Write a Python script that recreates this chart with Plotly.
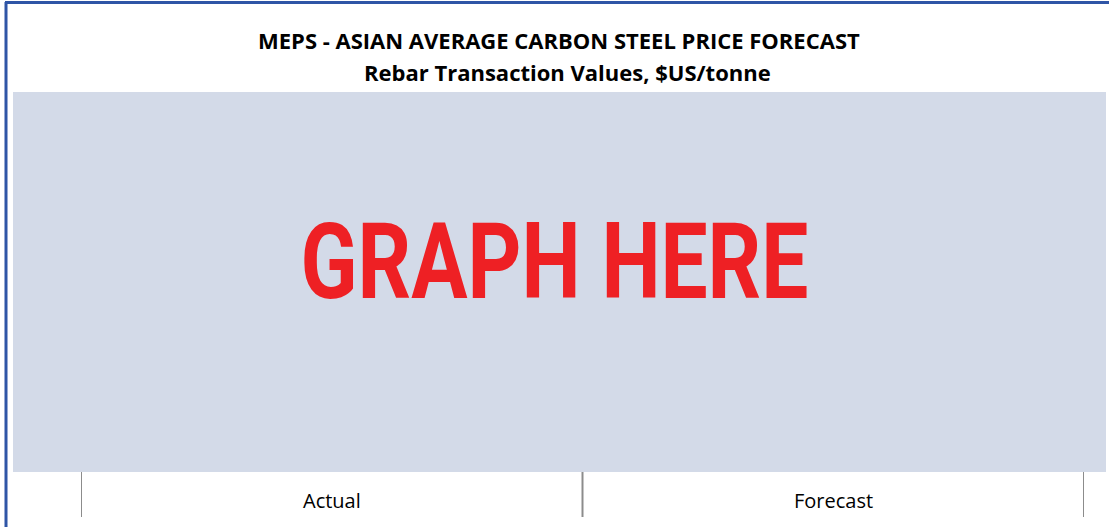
import plotly.graph_objects as go

# chart text
title_line1 = "MEPS - ASIAN AVERAGE CARBON STEEL PRICE FORECAST"
title_line2 = "Rebar Transaction Values, $US/tonne"
placeholder = "GRAPH HERE"

# period sections along the bottom axis
periods = ["Actual", "Forecast"]
period_edges = [-0.5, 0.5, 1.5]

W, H = 1109, 527


def px_x(v):
    return v / W


def px_y(v):
    return 1 - v / H


fig = go.Figure()

# invisible trace so the axis exists
fig.add_trace(go.Scatter(x=periods, y=[0, 0], mode="markers",
                         marker=dict(opacity=0), hoverinfo="skip", showlegend=False))

shapes = []
# grey placeholder area
shapes.append(dict(type="rect", xref="paper", yref="paper",
                   x0=px_x(13), x1=px_x(1106), y0=px_y(472), y1=px_y(92),
                   fillcolor="#D3DAE8", line=dict(width=0), layer="below"))
# blue frame (left and top)
shapes.append(dict(type="line", xref="paper", yref="paper",
                   x0=px_x(6), x1=px_x(6), y0=0, y1=px_y(2),
                   line=dict(color="#2F55A6", width=3)))
shapes.append(dict(type="line", xref="paper", yref="paper",
                   x0=px_x(5), x1=1, y0=px_y(2.5), y1=px_y(2.5),
                   line=dict(color="#2F55A6", width=3)))
# dividers between periods
for e in period_edges:
    shapes.append(dict(type="line", xref="x", yref="paper",
                       x0=e, x1=e, y0=px_y(517), y1=px_y(472),
                       line=dict(color="#8C8C8C", width=2)))

annotations = [
    dict(text="<b>" + title_line1 + "</b>", x=px_x(559), y=px_y(40), xref="paper", yref="paper",
         xanchor="center", yanchor="middle", showarrow=False,
         font=dict(size=22, color="#000000")),
    dict(text="<b>" + title_line2 + "</b>", x=px_x(567), y=px_y(72), xref="paper", yref="paper",
         xanchor="center", yanchor="middle", showarrow=False,
         font=dict(size=22, color="#000000")),
    dict(text="<b>" + placeholder + "</b>", x=px_x(554), y=px_y(262), xref="paper", yref="paper",
         xanchor="center", yanchor="middle", showarrow=False,
         font=dict(size=106, color="#EE2024", family="Roboto, sans-serif")),
]
for p in periods:
    annotations.append(dict(text=p, x=p, y=px_y(500), xref="x", yref="paper",
                            xanchor="center", yanchor="middle", showarrow=False,
                            font=dict(size=20, color="#000000")))

fig.update_layout(
    width=W, height=H,
    margin=dict(l=0, r=0, t=0, b=0),
    paper_bgcolor="white", plot_bgcolor="rgba(0,0,0,0)",
    font=dict(family="Open Sans, sans-serif"),
    shapes=shapes, annotations=annotations,
    xaxis=dict(domain=[px_x(81), px_x(1084)], range=[-0.5, 1.5],
               visible=False, fixedrange=True),
    yaxis=dict(domain=[px_y(517), px_y(472)], range=[-1, 1],
               visible=False, fixedrange=True),
)

# no page margin; squeeze the placeholder text to a condensed look
post = """
document.body.style.margin = '0';
var gd = document.getElementById('{plot_id}');
function squeeze() {
  var t = gd.querySelector('g.annotation[data-index="2"] text');
  if (t) {
    t.style.transformBox = 'fill-box';
    t.style.transformOrigin = 'center';
    t.style.transform = 'scaleX(0.79)';
  }
}
squeeze();
setTimeout(squeeze, 50);
gd.on('plotly_afterplot', squeeze);
"""

fig.write_html("out.html", post_script=post, config=dict(displayModeBar=False))
